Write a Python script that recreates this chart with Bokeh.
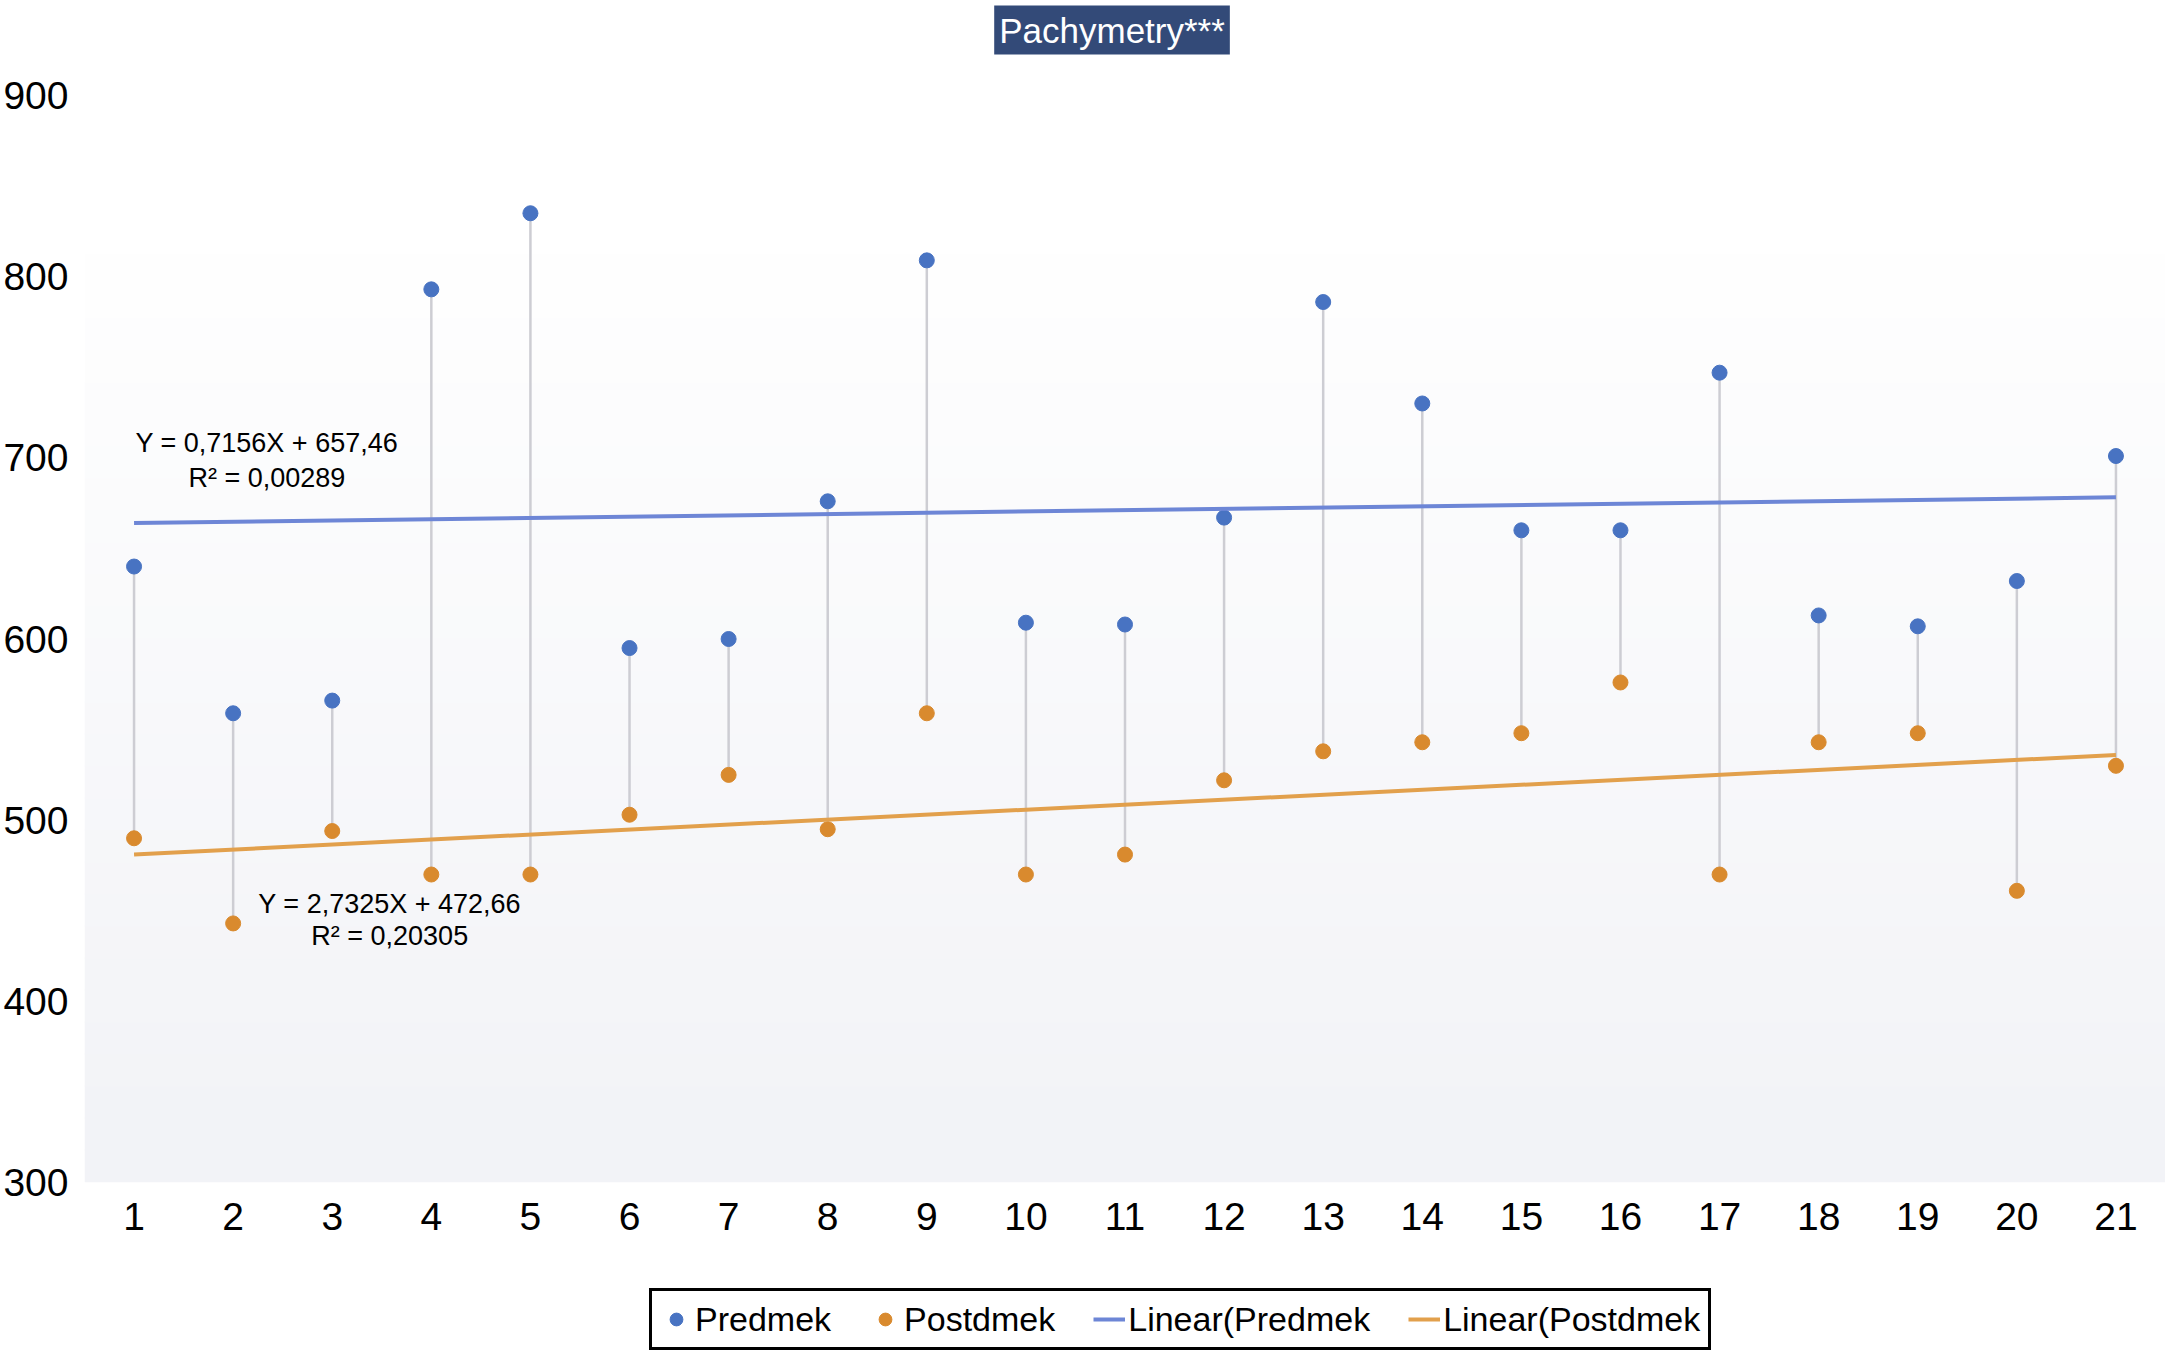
import numpy as np
from bokeh.plotting import figure
from bokeh.layouts import column
from bokeh.models import Label, BoxAnnotation, FixedTicker, Range1d, Legend, LegendItem
from bokeh.embed import file_html
from bokeh.resources import INLINE

# data
patient = [1, 2, 3, 4, 5, 6, 7, 8, 9, 10, 11, 12, 13, 14, 15, 16, 17, 18, 19, 20, 21]
predmek = [640, 559, 566, 793, 835, 595, 600, 676, 809, 609, 608,
           667, 786, 730, 660, 660, 747, 613, 607, 632, 701]
postdmek = [490, 443, 494, 470, 470, 503, 525, 495, 559, 470, 481,
            522, 538, 543, 548, 576, 470, 543, 548, 461, 530]
y_ticks = [300, 400, 500, 600, 700, 800, 900]
title_text = "Pachymetry***"
eq_pre = ["Y = 0,7156X + 657,46", "R\u00b2 = 0,00289"]
eq_post = ["Y = 2,7325X + 472,66", "R\u00b2 = 0,20305"]
legend_names = ["Predmek", "Postdmek", "Linear(Predmek", "Linear(Postdmek"]

FONT = "Liberation Sans"
BLUE, ORANGE = "#4873c2", "#d98a2e"
BLUE_FIT, ORANGE_FIT = "#6d86d6", "#e2a04c"
W = 2165


def strip(height, xr, yr):
    f = figure(width=W, height=height, x_range=xr, y_range=yr,
               x_axis_type=None, y_axis_type=None,
               output_backend="svg", toolbar_location=None, min_border=0)
    f.grid.visible = False
    f.outline_line_color = None
    return f


# title strip (pixel coordinates)
top = strip(55, Range1d(0, W), Range1d(0, 55))
top.add_layout(Label(x=1069, y=25.5, text=title_text, text_align="center", text_baseline="middle",
                     text_font=FONT, text_font_size="35px", text_color="white",
                     background_fill_color="#334a78", padding=5))

plot = figure(width=W, height=1222,
              x_range=Range1d(0.5, 21.5), y_range=Range1d(300, 900),
              output_backend="svg", toolbar_location=None,
              min_border_left=73, min_border_right=0,
              min_border_top=40, min_border_bottom=95)

# soft vertical gradient behind the points
n_bands = 30
for i in range(n_bands):
    lo = 300 + i * (530 / n_bands)
    hi = lo + 530 / n_bands + 0.5
    t = i / (n_bands - 1)
    r = int(242 + (255 - 242) * t)
    g = int(243 + (255 - 243) * t)
    b = int(247 + (255 - 247) * t)
    plot.add_layout(BoxAnnotation(bottom=lo, top=hi, fill_color=(r, g, b), fill_alpha=1,
                                  line_alpha=0, level="underlay"))

# drop lines
plot.segment(x0=patient, y0=predmek, x1=patient, y1=postdmek,
             line_color="#cdcdd3", line_width=2.5)

# linear fits
xs = np.array([patient[0], patient[-1]])
k1, b1 = np.polyfit(patient, predmek, 1)
k2, b2 = np.polyfit(patient, postdmek, 1)

plot.scatter(patient, predmek, size=15, color=BLUE)
plot.scatter(patient, postdmek, size=15, color=ORANGE)
plot.line(xs, k1 * xs + b1, line_color=BLUE_FIT, line_width=4)
plot.line(xs, k2 * xs + b2, line_color=ORANGE_FIT, line_width=4)

# equation labels
for txt, yy in zip(eq_pre, [708, 689]):
    plot.add_layout(Label(x=2.34, y=yy, text=txt, text_align="center", text_baseline="middle",
                          text_font=FONT, text_font_size="27px", text_color="black"))
for txt, yy in zip(eq_post, [454, 436]):
    plot.add_layout(Label(x=3.58, y=yy, text=txt, text_align="center", text_baseline="middle",
                          text_font=FONT, text_font_size="27px", text_color="black"))

# axes
plot.xaxis.ticker = FixedTicker(ticks=patient)
plot.yaxis.ticker = FixedTicker(ticks=y_ticks)
for ax in (plot.xaxis, plot.yaxis):
    ax.axis_line_color = None
    ax.major_tick_line_color = None
    ax.minor_tick_line_color = None
    ax.major_label_text_font = FONT
    ax.major_label_text_font_size = "39px"
    ax.major_label_text_color = "black"
plot.xaxis.major_label_standoff = 14
plot.yaxis.major_label_standoff = 10
plot.grid.visible = False
plot.outline_line_color = None
plot.background_fill_color = "white"

# legend strip under the chart (one hidden point per swatch, outside the range)
leg = strip(75, Range1d(0, 1), Range1d(0, 1))
r1 = leg.scatter([-5], [-5], size=15, color=BLUE)
r2 = leg.scatter([-5], [-5], size=15, color=ORANGE)
r3 = leg.line([-5, -4], [-5, -5], line_color=BLUE_FIT, line_width=4)
r4 = leg.line([-5, -4], [-5, -5], line_color=ORANGE_FIT, line_width=4)
lg = Legend(items=[LegendItem(label=n, renderers=[r]) for n, r in zip(legend_names, [r1, r2, r3, r4])],
            location=(565, 2), orientation="horizontal")
lg.border_line_color = "black"
lg.border_line_alpha = 1
lg.border_line_width = 3
lg.label_text_font = FONT
lg.label_text_font_size = "34px"
lg.label_text_color = "black"
lg.glyph_width = 32
lg.glyph_height = 40
lg.label_standoff = 3
lg.spacing = 38
lg.padding = 8
lg.background_fill_alpha = 1
leg.add_layout(lg)

p = column(top, plot, leg, spacing=0)
open("out.html", "w").write(file_html(p, INLINE))
